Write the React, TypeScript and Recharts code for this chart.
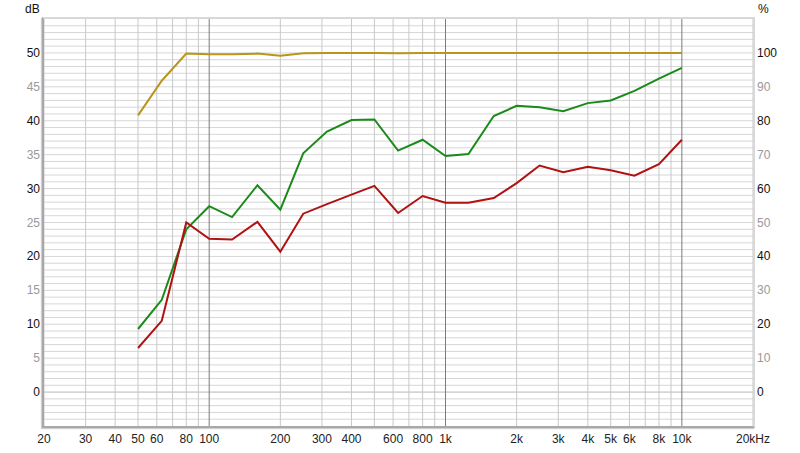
import React from 'react'
import {
  ComposedChart,
  Line,
  XAxis,
  YAxis,
  ReferenceLine,
} from 'recharts'

// 1/3-octave band centres (Hz)
const freqs = [
  50, 63, 80, 100, 125, 160, 200, 250, 315, 400, 500, 630, 800, 1000, 1250, 1600, 2000, 2500, 3150,
  4000, 5000, 6300, 8000, 10000,
]
// dB, left axis
const greenDb = [
  9.3, 13.6, 24.0, 27.4, 25.8, 30.5, 26.9, 35.2, 38.4, 40.1, 40.2, 35.6, 37.2, 34.8, 35.1, 40.7,
  42.2, 42.0, 41.4, 42.6, 43.0, 44.4, 46.2, 47.8,
]
const redDb = [
  6.5, 10.5, 25.0, 22.6, 22.5, 25.1, 20.7, 26.3, 27.7, 29.1, 30.4, 26.4, 28.9, 27.9, 27.9, 28.6,
  30.8, 33.4, 32.4, 33.2, 32.7, 31.9, 33.6, 37.2,
]
// %, right axis
const goldPct = [
  81.6, 91.8, 99.8, 99.6, 99.6, 99.8, 99.2, 99.9, 100, 100, 100, 99.9, 100, 100, 100, 100, 100,
  100, 100, 100, 100, 100, 100, 100,
]

const xTicks = [20, 30, 40, 50, 60, 80, 100, 200, 300, 400, 600, 800, 1000, 2000, 3000, 4000, 5000, 6000, 8000, 10000, 20000]
const dbTicks = [0, 5, 10, 15, 20, 25, 30, 35, 40, 45, 50]
const pctTicks = [0, 10, 20, 30, 40, 50, 60, 70, 80, 90, 100]

const data = freqs.map((f, i) => ({ f, green: greenDb[i], red: redDb[i], gold: goldPct[i] }))

const gridDb: number[] = []
for (let v = -4; v <= 54; v++) gridDb.push(v)
const gridHz: number[] = []
for (const dec of [10, 100, 1000]) for (let m = 1; m <= 9; m++) if (dec * m >= 20) gridHz.push(dec * m)
gridHz.push(10000, 20000)

const isMajor = (v: number) => v === 100 || v === 1000 || v === 10000

const fmtHz = (v: number) => {
  if (v === 20000) return '20kHz'
  if (v >= 1000) return `${v / 1000}k`
  return `${v}`
}

const font = '"Liberation Sans", Arial, sans-serif'
const PLOT_LEFT = 44
const PLOT_RIGHT = 753

// labels hug the frame: right-aligned 4px left of it, or 4px right of it
const LeftTick = ({ y, payload }: any) => (
  <text x={PLOT_LEFT - 4} y={y} dy={4} textAnchor="end" fontSize={12} fontFamily={font}
    fill={payload.value % 10 === 0 ? '#111' : '#999'}>
    {payload.value}
  </text>
)
const RightTick = ({ y, payload }: any) => (
  <text x={PLOT_RIGHT + 4} y={y} dy={4} textAnchor="start" fontSize={12} fontFamily={font}
    fill={payload.value % 20 === 0 ? '#111' : '#999'}>
    {payload.value}
  </text>
)

export default function App() {
  return (
    <div style={{ position: 'absolute', left: 0, top: 0, width: 800, height: 453, background: '#fff' }}>
      <ComposedChart width={800} height={453} data={data} margin={{ top: 19, right: 0, bottom: 0, left: 0 }}>
        <XAxis
          dataKey="f"
          type="number"
          scale="log"
          domain={[20, 20000]}
          ticks={xTicks}
          tickFormatter={fmtHz}
          axisLine={false}
          tickLine={false}
          height={27}
          tick={{ fill: '#222', fontSize: 12, fontFamily: font }}
          allowDataOverflow
          interval={0}
        />
        <YAxis
          yAxisId="db"
          domain={[-5, 55]}
          ticks={dbTicks}
          width={PLOT_LEFT}
          axisLine={false}
          tickLine={false}
          tick={<LeftTick />}
          interval={0}
        />
        <YAxis
          yAxisId="pct"
          orientation="right"
          domain={[-10, 110]}
          ticks={pctTicks}
          width={800 - PLOT_RIGHT}
          axisLine={false}
          tickLine={false}
          tick={<RightTick />}
          interval={0}
        />
        {gridDb.map((v) => (
          <ReferenceLine key={`h${v}`} yAxisId="db" y={v} stroke={v === 0 ? '#b8b8b8' : '#d6d6d6'} strokeWidth={1} />
        ))}
        {gridHz.filter((v) => !isMajor(v)).map((v) => (
          <ReferenceLine key={`v${v}`} yAxisId="db" x={v} stroke="#c8c8c8" strokeWidth={1} />
        ))}
        {gridHz.filter(isMajor).map((v) => (
          <ReferenceLine key={`V${v}`} yAxisId="db" x={v} stroke="#7a7a7a" strokeWidth={1} />
        ))}
        <Line yAxisId="pct" dataKey="gold" stroke="#b8951c" strokeWidth={2} dot={false} isAnimationActive={false} />
        <Line yAxisId="db" dataKey="green" stroke="#1a8a1a" strokeWidth={2} dot={false} isAnimationActive={false} />
        <Line yAxisId="db" dataKey="red" stroke="#b01212" strokeWidth={2} dot={false} isAnimationActive={false} />
      </ComposedChart>
      <div
        style={{
          position: 'absolute',
          left: PLOT_LEFT - 2,
          top: 17,
          width: PLOT_RIGHT - PLOT_LEFT,
          height: 407,
          borderLeft: '2px solid #a8a8a8',
          borderBottom: '2px solid #a8a8a8',
          borderTop: '2px solid #d8d8d8',
          borderRight: '2px solid #d8d8d8',
          boxShadow: '-1px 1px 1px #cfcfcf',
          pointerEvents: 'none',
        }}
      />
      <div style={{ position: 'absolute', left: 25, top: 2, fontSize: 12, fontFamily: font, color: '#111' }}>dB</div>
      <div style={{ position: 'absolute', left: 758, top: 2, fontSize: 12, fontFamily: font, color: '#111' }}>%</div>
    </div>
  )
}
